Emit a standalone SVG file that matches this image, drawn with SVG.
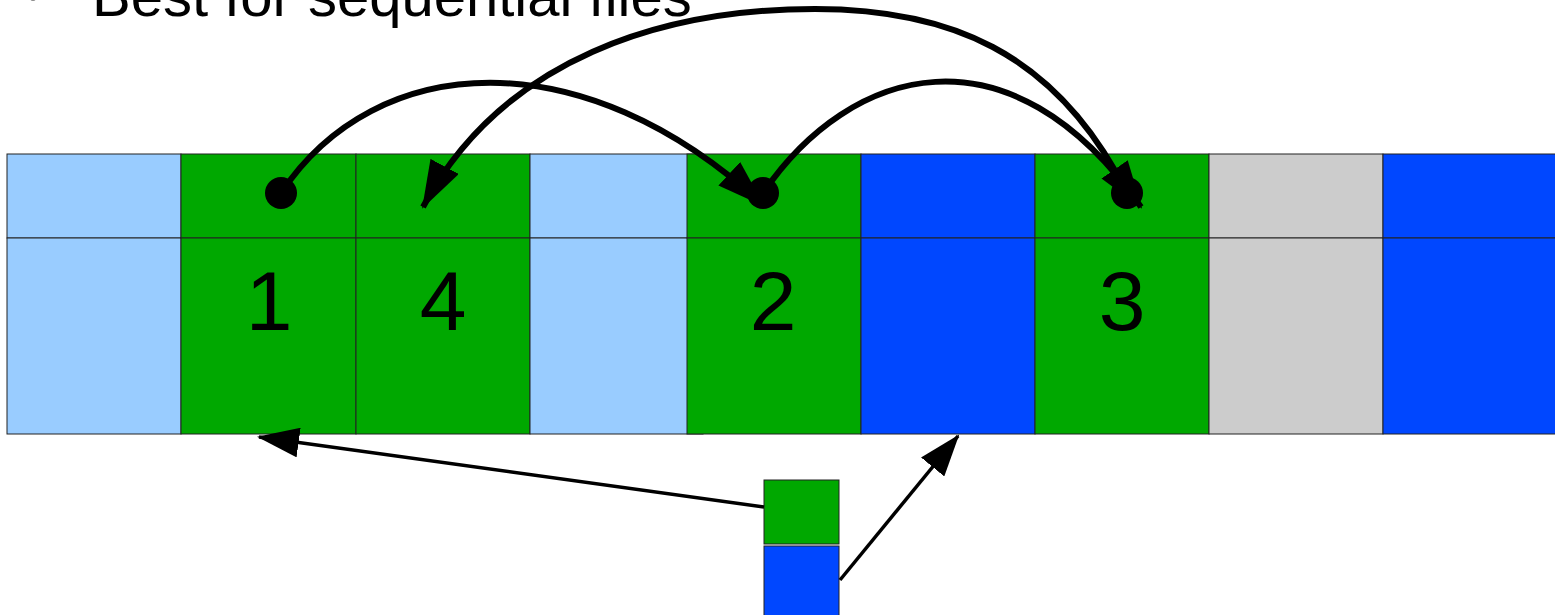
<svg xmlns="http://www.w3.org/2000/svg" width="1555" height="615" viewBox="0 0 1555 615">
<style>
.c{stroke:#222;stroke-width:1}
.lb{fill:#99ccff}.g{fill:#00a800}.b{fill:#0047ff}.gr{fill:#cccccc}
.num{font-family:"Liberation Sans",Arial,sans-serif;font-size:84px;fill:#000;text-anchor:middle}
.title{font-family:"Liberation Sans",Arial,sans-serif;font-size:58px;fill:#000}
.curve{fill:none;stroke:#000;stroke-width:6}
.line{fill:none;stroke:#000;stroke-width:3.5}
</style>
<defs>
<marker id="ah" viewBox="0 0 48 32" markerWidth="48" markerHeight="32" refX="46" refY="16" orient="auto" markerUnits="userSpaceOnUse">
<path d="M0,0 L48,16 L0,32 z" fill="#000"/>
</marker>
<marker id="ahs" viewBox="0 0 42 30" markerWidth="42" markerHeight="30" refX="40" refY="15" orient="auto" markerUnits="userSpaceOnUse">
<path d="M0,0 L42,15 L0,30 z" fill="#000"/>
</marker>
</defs>
<rect width="1555" height="615" fill="#fff"/>
<circle cx="33" cy="-2" r="3" fill="#888"/>
<text class="title" x="92" y="16">Best for sequential files</text>
<g id="cell0"><rect class="c lb" x="7" y="154" width="174" height="84"/><rect class="c lb" x="7" y="238" width="174" height="196"/></g>
<g id="cell1"><rect class="c g" x="181" y="154" width="175" height="84"/><rect class="c g" x="181" y="238" width="175" height="196"/><text class="num" x="269" y="330">1</text></g>
<g id="cell2"><rect class="c g" x="356" y="154" width="174" height="84"/><rect class="c g" x="356" y="238" width="174" height="196"/><text class="num" x="443" y="330">4</text></g>
<g id="cell3"><rect class="c lb" x="530" y="154" width="173" height="84"/><rect class="c lb" x="530" y="238" width="173" height="196"/></g>
<g id="cell4"><rect class="c g" x="687" y="154" width="174" height="84"/><rect class="c g" x="687" y="238" width="174" height="196"/><text class="num" x="773" y="330">2</text></g>
<g id="cell5"><rect class="c b" x="861" y="154" width="174" height="84"/><rect class="c b" x="861" y="238" width="174" height="196"/></g>
<g id="cell6"><rect class="c g" x="1035" y="154" width="174" height="84"/><rect class="c g" x="1035" y="238" width="174" height="196"/><text class="num" x="1122" y="330">3</text></g>
<g id="cell7"><rect class="c gr" x="1209" y="154" width="174" height="84"/><rect class="c gr" x="1209" y="238" width="174" height="196"/></g>
<g id="cell8"><rect class="c b" x="1383" y="154" width="180" height="84"/><rect class="c b" x="1383" y="238" width="180" height="196"/></g>
<g id="ptrGreen"><rect class="c g" x="764" y="480" width="75" height="64"/></g>
<g id="ptrBlue"><rect class="c b" x="764" y="546" width="75" height="75"/></g>
<g id="connectors">
<path class="curve" d="M281,193 C376,50 583,38 763,205" marker-end="url(#ah)"/>
<path class="curve" d="M763,193 C850,65 1010,20 1141,207" marker-end="url(#ah)"/>
<path class="curve" d="M1127,193 C1055,49 945,9 815,9 C665,9 503,57 423,207" marker-end="url(#ah)"/>
<circle cx="281" cy="193" r="16" fill="#000"/>
<circle cx="763" cy="193" r="16" fill="#000"/>
<circle cx="1127" cy="193" r="16" fill="#000"/>
<path class="line" d="M764,507 L259,437" marker-end="url(#ahs)"/>
<path class="line" d="M840,580 L958,436" marker-end="url(#ahs)"/>
</g>
</svg>
